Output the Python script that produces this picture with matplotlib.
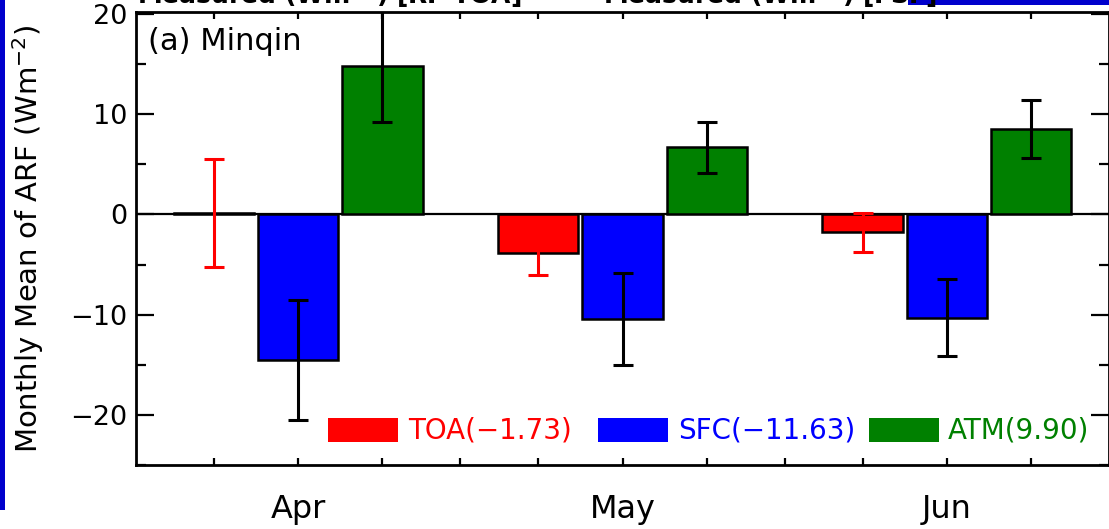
import numpy as np
import matplotlib
matplotlib.use("Agg")
import matplotlib.pyplot as plt
from matplotlib.patches import Rectangle
from matplotlib.ticker import MultipleLocator

# ── Data ─────────────────────────────────────────────────────────────────────
months   = ["Apr", "May", "Jun"]
toa      = [0.15, -3.85, -1.8]
toa_err  = [5.4, 2.15, 1.9]
sfc      = [-14.5, -10.4, -10.3]
sfc_err  = [6.0, 4.6, 3.85]
atm      = [14.8, 6.7, 8.5]
atm_err  = [5.6, 2.55, 2.9]
series_names = ["TOA", "SFC", "ATM"]
series_means = [-1.73, -11.63, 9.90]

RED, BLUE, GREEN = "#FF0000", "#0000FF", "#008000"
SLIDE_BLUE = "#0000CC"

x = np.arange(1, len(months) + 1)
off, width = 0.26, 0.247

fig = plt.figure(figsize=(11.09, 5.29), dpi=100, facecolor="white")
ax = fig.add_axes([136 / 1109, 64 / 529, 973 / 1109, 453 / 529])

ax.axhline(0, color="black", lw=1.6, zorder=1)

series = [(toa, toa_err, RED, RED, -off),
          (sfc, sfc_err, BLUE, "black", 0.0),
          (atm, atm_err, GREEN, "black", off)]
for vals, errs, col, ecol, dx in series:
    ax.bar(x + dx, vals, width=width, color=col, edgecolor="black",
           linewidth=1.8, zorder=2)
    ax.errorbar(x + dx, vals, yerr=errs, fmt="none", ecolor=ecol,
                elinewidth=2.2, capsize=7, capthick=2.2, zorder=3)

# ── Axes styling ─────────────────────────────────────────────────────────────
ax.set_xlim(0.5, 3.5)
ax.set_ylim(-25, 20.2)
ticks = sorted(list(x - off) + list(x) + list(x + off) + [1.5, 2.5])
ax.set_xticks(ticks)
ax.set_xticklabels([months[int(t) - 1] if float(t).is_integer() else ""
                    for t in ticks])
ax.yaxis.set_minor_locator(MultipleLocator(5))
ax.set_yticks([-20, -10, 0, 10, 20])
ax.set_yticklabels(["\u221220", "\u221210", "0", "10", "20"])

ax.tick_params(which="both", direction="in", top=True, right=True)
ax.tick_params(axis="y", which="major", length=13, width=1.6,
               labelsize=19.5, pad=6)
ax.tick_params(axis="y", which="minor", length=7, width=1.6)
ax.tick_params(axis="x", which="major", length=5, width=1.6,
               labelsize=23, pad=21)
for sp in ax.spines.values():
    sp.set_linewidth(2.0)

ax.set_ylabel(r"Monthly Mean of ARF (Wm$^{-2}$)", fontsize=21)
ax.yaxis.set_label_coords(-0.093, 0.5)

ax.text(0.012, 0.916, "(a) Minqin", transform=ax.transAxes,
        fontsize=22, va="baseline", ha="left")

# ── Hand-placed legend along the bottom ─────────────────────────────────────
patch_x = [0.197, 0.4748, 0.7533]
text_x  = [0.2796, 0.557, 0.8345]
for name, mean, col, px, tx in zip(series_names, series_means,
                                   [RED, BLUE, GREEN], patch_x, text_x):
    ax.add_patch(Rectangle((px, 0.051), 0.072, 0.053, transform=ax.transAxes,
                           facecolor=col, edgecolor="none", zorder=4))
    ax.text(tx, 0.077, f"{name}({mean:.2f})".replace("-", "\u2212"),
            transform=ax.transAxes, color=col, fontsize=20,
            va="center", ha="left", zorder=4)

# ── Slide remnants around the crop ──────────────────────────────────────────
fig.patches.append(Rectangle((0, 19 / 529), 5 / 1109, 1, transform=fig.transFigure,
                             facecolor=SLIDE_BLUE, edgecolor="none"))
fig.patches.append(Rectangle((908 / 1109, 1 - 5 / 529), 1, 5 / 529,
                             transform=fig.transFigure,
                             facecolor=SLIDE_BLUE, edgecolor="none"))
fig.text(137 / 1109, 1 - 5 / 529, r"Measured (Wm$^{-2}$) [RF TOA]",
         fontsize=18, fontweight="bold", va="baseline", ha="left")
fig.text(603 / 1109, 1 - 5 / 529, r"Measured (Wm$^{-2}$) [FSF]",
         fontsize=18, fontweight="bold", va="baseline", ha="left")

fig.savefig("out.png", dpi=100, facecolor="white")
